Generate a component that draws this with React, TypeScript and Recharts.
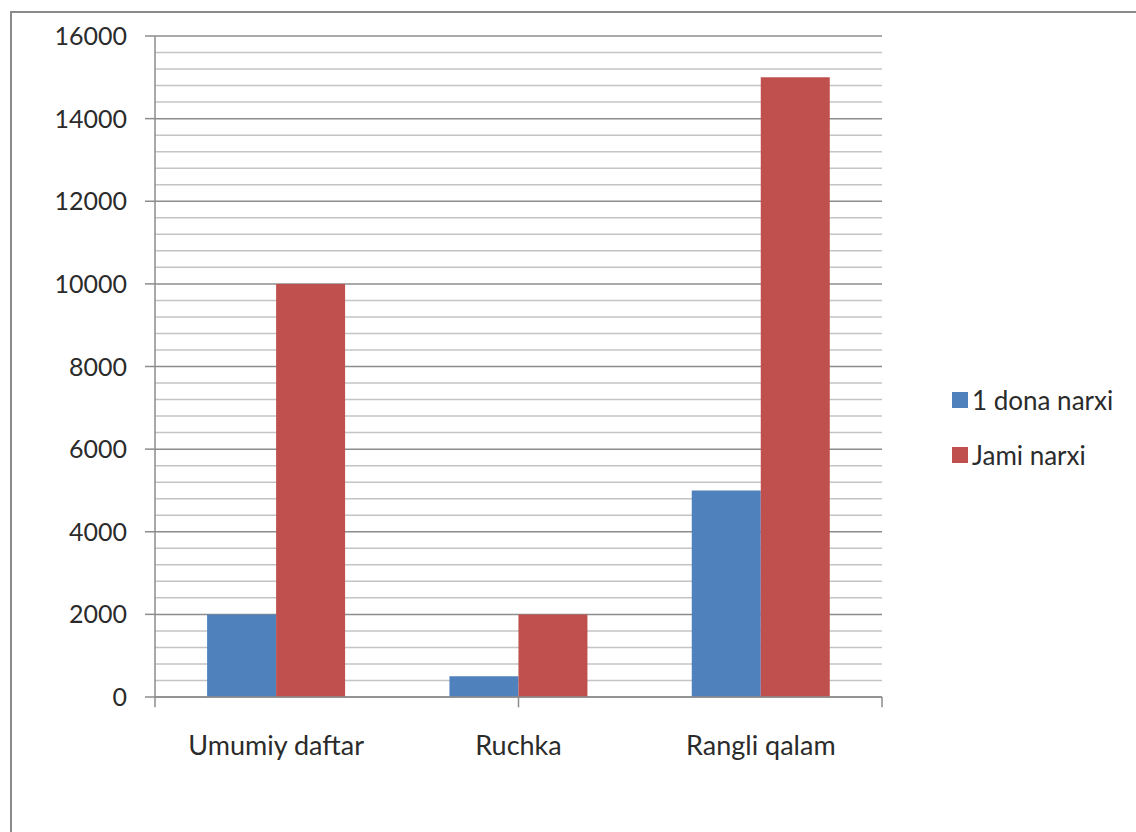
import * as React from "react";
import {
  BarChart,
  Bar,
  XAxis,
  YAxis,
  CartesianGrid,
  ReferenceLine,
  Legend,
} from "recharts";

const categories = ["Umumiy daftar", "Ruchka", "Rangli qalam"];
const unitPrice = [2000, 500, 5000];
const totalPrice = [10000, 2000, 15000];
const majorTicks = [0, 2000, 4000, 6000, 8000, 10000, 12000, 14000, 16000];
const minorTicks = [
  400, 800, 1200, 1600, 2400, 2800, 3200, 3600, 4400, 4800, 5200, 5600,
  6400, 6800, 7200, 7600, 8400, 8800, 9200, 9600, 10400, 10800, 11200, 11600,
  12400, 12800, 13200, 13600, 14400, 14800, 15200, 15600,
];
const boundaryTicks = [0, 1, 2, 3];

const seriesNames = ["1 dona narxi", "Jami narxi"];
const colors = ["#4f81bd", "#c0504d"];

const FONT = "Lato, 'Open Sans', sans-serif";
const GRID_DARK = "#8c8c8c";
const TEXT = "#2b2b2b";

const data = categories.map((name, i) => ({
  name,
  unit: unitPrice[i],
  total: totalPrice[i],
}));

function YTick(props: any) {
  const { x, y, payload } = props;
  return (
    <text
      x={x - 16}
      y={y}
      dy={9}
      textAnchor="end"
      fontFamily={FONT}
      fontSize={25}
      fill={TEXT}
    >
      {payload.value}
    </text>
  );
}

function XTick(props: any) {
  const { x, y, payload } = props;
  return (
    <text
      x={x}
      y={y + 50}
      textAnchor="middle"
      fontFamily={FONT}
      fontSize={27}
      fill={TEXT}
    >
      {payload.value}
    </text>
  );
}

const renderLegend = () => (
  <div style={{ fontFamily: FONT, fontSize: 26, color: TEXT }}>
    {seriesNames.map((n, i) => (
      <div
        key={n}
        style={{ display: "flex", alignItems: "center", height: 55 }}
      >
        <span
          style={{
            display: "inline-block",
            width: 16,
            height: 16,
            background: colors[i],
            marginRight: 4,
          }}
        />
        <span>{n}</span>
      </div>
    ))}
  </div>
);

export default function App() {
  return (
    <div
      style={{
        position: "absolute",
        left: 0,
        top: 0,
        width: 1136,
        height: 832,
        background: "#fff",
        overflow: "hidden",
      }}
    >
      <div
        style={{
          position: "absolute",
          left: 10,
          top: 11,
          width: 1150,
          height: 850,
          border: "2px solid #8a8a8a",
        }}
      />
      <BarChart
        width={1136}
        height={832}
        data={data}
        margin={{ top: 36, right: 254, bottom: 75, left: 10 }}
        barCategoryGap="21.5%"
        barGap={0}
      >
        <CartesianGrid
          vertical={false}
          horizontalValues={minorTicks}
          stroke="#c4c4c4"
          strokeWidth={1.5}
        />
        <CartesianGrid
          vertical={false}
          horizontalValues={majorTicks}
          stroke={GRID_DARK}
          strokeWidth={1.5}
        />
        <XAxis
          dataKey="name"
          height={60}
          tick={<XTick />}
          tickLine={false}
          axisLine={{ stroke: GRID_DARK, strokeWidth: 1.5 }}
          interval={0}
        />
        <XAxis
          xAxisId="bounds"
          type="number"
          domain={[0, 3]}
          hide
        />
        {boundaryTicks.map((v) => (
          <ReferenceLine
            key={`b-${v}`}
            xAxisId="bounds"
            ifOverflow="visible"
            segment={[
              { x: v, y: 0 },
              { x: v, y: -250 },
            ]}
            stroke={GRID_DARK}
            strokeWidth={1.5}
          />
        ))}
        <YAxis
          width={145}
          domain={[0, 16000]}
          ticks={majorTicks}
          interval={0}
          tick={<YTick />}
          tickSize={10}
          tickLine={{ stroke: GRID_DARK, strokeWidth: 1.5 }}
          axisLine={{ stroke: GRID_DARK, strokeWidth: 1.5 }}
        />
        <Bar
          dataKey="unit"
          name={seriesNames[0]}
          fill={colors[0]}
          isAnimationActive={false}
        />
        <Bar
          dataKey="total"
          name={seriesNames[1]}
          fill={colors[1]}
          isAnimationActive={false}
        />
        <Legend
          content={renderLegend}
          layout="horizontal"
          verticalAlign="middle"
          wrapperStyle={{ left: 952, top: 372, width: 184 }}
        />
      </BarChart>
    </div>
  );
}
